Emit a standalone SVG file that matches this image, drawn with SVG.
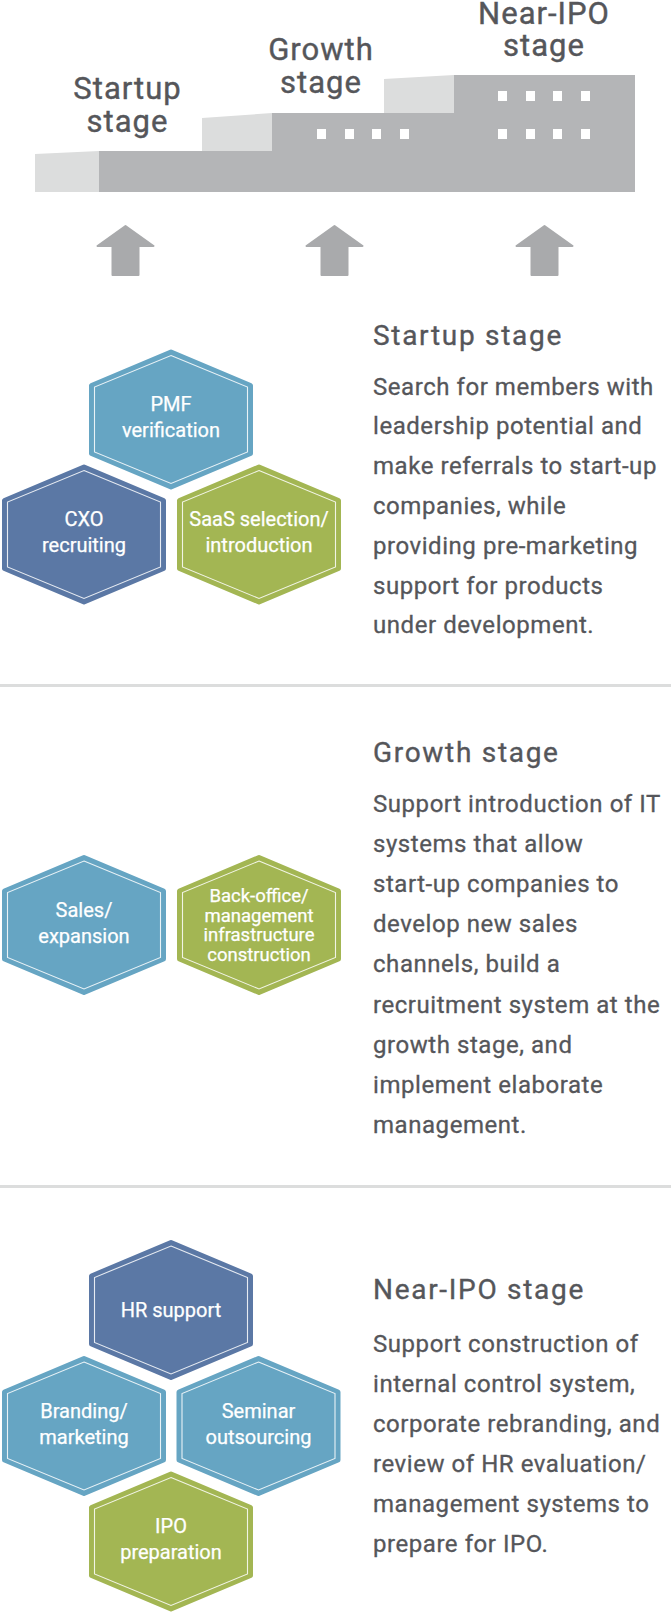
<svg xmlns="http://www.w3.org/2000/svg" xmlns:xlink="http://www.w3.org/1999/xlink" width="671" height="1614" viewBox="0 0 671 1614">
<style>
.bg{fill:#ffffff}
.dark{fill:#b4b5b7}
.light{fill:#dcdddd}
.win{fill:#ffffff}
.arrow{fill:#a9aaac;stroke:#a9aaac;stroke-width:2;stroke-linejoin:round}
.toplbl{font-family:Roboto,"Liberation Sans",sans-serif;font-size:31px;letter-spacing:1px;fill:#55565a;stroke:#55565a;stroke-width:0.4;text-anchor:middle}
.head{font-family:Roboto,"Liberation Sans",sans-serif;font-size:28px;letter-spacing:1.7px;fill:#55565a;stroke:#55565a;stroke-width:0.35}
.body{font-family:Roboto,"Liberation Sans",sans-serif;font-size:24px;letter-spacing:0.55px;fill:#55565a;stroke:#55565a;stroke-width:0.3}
.hl{font-family:Roboto,"Liberation Sans",sans-serif;font-size:20px;fill:#ffffff;stroke:#ffffff;stroke-width:0.25;text-anchor:middle}
.hl4{font-family:Roboto,"Liberation Sans",sans-serif;font-size:18.5px;fill:#ffffff;stroke:#ffffff;stroke-width:0.25;text-anchor:middle}
.sep{fill:#dcdddd}
.lb{fill:#66a5c3;stroke:#66a5c3;stroke-width:5;stroke-linejoin:round}
.db{fill:#5b78a5;stroke:#5b78a5;stroke-width:5;stroke-linejoin:round}
.gr{fill:#a3b653;stroke:#a3b653;stroke-width:5;stroke-linejoin:round}
.inner{fill:none;stroke:#ffffff;stroke-width:1.1;stroke-opacity:0.85}
</style>
<defs>
<path id="hexO" d="M0,-67.5 L79.5,-34 L79.5,34 L0,67.5 L-79.5,34 L-79.5,-34 Z"/>
<path id="hexI" d="M0,-64 L76.5,-32.5 L76.5,32.5 L0,64 L-76.5,32.5 L-76.5,-32.5 Z"/>
<path id="arr" d="M0,0 L28,20 L13,20 L13,49 L-13,49 L-13,20 L-28,20 Z"/>
</defs>
<rect class="bg" x="0" y="0" width="671" height="1614"/>

<g id="building">
<polygon class="light" points="35,154 99,151 99,192 35,192"/>
<polygon class="light" points="202,118 272,113 272,151 202,151"/>
<polygon class="light" points="384,79 454,75 454,113 384,113"/>
<polygon class="dark" points="99,151 272,151 272,113 454,113 454,75 635,75 635,192 99,192"/>
<rect class="win" x="317" y="129" width="9" height="10"/>
<rect class="win" x="345" y="129" width="9" height="10"/>
<rect class="win" x="372" y="129" width="9" height="10"/>
<rect class="win" x="400" y="129" width="9" height="10"/>
<rect class="win" x="498" y="91" width="9" height="10"/>
<rect class="win" x="526" y="91" width="9" height="10"/>
<rect class="win" x="553" y="91" width="9" height="10"/>
<rect class="win" x="581" y="91" width="9" height="10"/>
<rect class="win" x="498" y="129" width="9" height="10"/>
<rect class="win" x="526" y="129" width="9" height="10"/>
<rect class="win" x="553" y="129" width="9" height="10"/>
<rect class="win" x="581" y="129" width="9" height="10"/>
</g>

<g id="top-labels">
<text class="toplbl" x="127.5" y="98.5">Startup</text>
<text class="toplbl" x="127.5" y="131.5">stage</text>
<text class="toplbl" x="321" y="60">Growth</text>
<text class="toplbl" x="321" y="93">stage</text>
<text class="toplbl" x="544" y="23.5">Near-IPO</text>
<text class="toplbl" x="544" y="56">stage</text>
</g>

<g id="connectors">
<use xlink:href="#arr" href="#arr" class="arrow" x="125.5" y="226"/>
<use xlink:href="#arr" href="#arr" class="arrow" x="334.5" y="226"/>
<use xlink:href="#arr" href="#arr" class="arrow" x="544.5" y="226"/>
</g>

<g id="section-startup">
<g id="hex-pmf">
<use href="#hexO" class="lb" x="171" y="419.5"/>
<use href="#hexI" class="inner" x="171" y="419.5"/>
<text class="hl" x="171" y="410.5">PMF</text>
<text class="hl" x="171" y="436.5">verification</text>
</g>
<g id="hex-cxo">
<use href="#hexO" class="db" x="84" y="534.5"/>
<use href="#hexI" class="inner" x="84" y="534.5"/>
<text class="hl" x="84" y="526">CXO</text>
<text class="hl" x="84" y="552">recruiting</text>
</g>
<g id="hex-saas">
<use href="#hexO" class="gr" x="259" y="534.5"/>
<use href="#hexI" class="inner" x="259" y="534.5"/>
<text class="hl" x="259" y="526">SaaS selection/</text>
<text class="hl" x="259" y="552">introduction</text>
</g>
<g id="text-startup">
<text class="head" x="373" y="345">Startup stage</text>
<text class="body" x="373" y="394.5">Search for members with</text>
<text class="body" x="373" y="434.3">leadership potential and</text>
<text class="body" x="373" y="474.1">make referrals to start-up</text>
<text class="body" x="373" y="513.9">companies, while</text>
<text class="body" x="373" y="553.7">providing pre-marketing</text>
<text class="body" x="373" y="593.5">support for products</text>
<text class="body" x="373" y="633.3">under development.</text>
</g>
</g>

<rect class="sep" x="0" y="684" width="671" height="3"/>

<g id="section-growth">
<g id="hex-sales">
<use href="#hexO" class="lb" x="84" y="925"/>
<use href="#hexI" class="inner" x="84" y="925"/>
<text class="hl" x="84" y="916.5">Sales/</text>
<text class="hl" x="84" y="942.5">expansion</text>
</g>
<g id="hex-backoffice">
<use href="#hexO" class="gr" x="259" y="925"/>
<use href="#hexI" class="inner" x="259" y="925"/>
<text class="hl4" x="259" y="902">Back-office/</text>
<text class="hl4" x="259" y="921.5">management</text>
<text class="hl4" x="259" y="941">infrastructure</text>
<text class="hl4" x="259" y="960.5">construction</text>
</g>
<g id="text-growth">
<text class="head" x="373" y="762">Growth stage</text>
<text class="body" x="373" y="812">Support introduction of IT</text>
<text class="body" x="373" y="852.1">systems that allow</text>
<text class="body" x="373" y="892.2">start-up companies to</text>
<text class="body" x="373" y="932.3">develop new sales</text>
<text class="body" x="373" y="972.4">channels, build a</text>
<text class="body" x="373" y="1012.5">recruitment system at the</text>
<text class="body" x="373" y="1052.6">growth stage, and</text>
<text class="body" x="373" y="1092.7">implement elaborate</text>
<text class="body" x="373" y="1132.8">management.</text>
</g>
</g>

<rect class="sep" x="0" y="1185" width="671" height="3"/>

<g id="section-ipo">
<g id="hex-hr">
<use href="#hexO" class="db" x="171" y="1310"/>
<use href="#hexI" class="inner" x="171" y="1310"/>
<text class="hl" x="171" y="1317">HR support</text>
</g>
<g id="hex-branding">
<use href="#hexO" class="lb" x="84" y="1426"/>
<use href="#hexI" class="inner" x="84" y="1426"/>
<text class="hl" x="84" y="1417.5">Branding/</text>
<text class="hl" x="84" y="1443.5">marketing</text>
</g>
<g id="hex-seminar">
<use href="#hexO" class="lb" x="258.5" y="1426"/>
<use href="#hexI" class="inner" x="258.5" y="1426"/>
<text class="hl" x="258.5" y="1417.5">Seminar</text>
<text class="hl" x="258.5" y="1443.5">outsourcing</text>
</g>
<g id="hex-ipo">
<use href="#hexO" class="gr" x="171" y="1541.5"/>
<use href="#hexI" class="inner" x="171" y="1541.5"/>
<text class="hl" x="171" y="1532.5">IPO</text>
<text class="hl" x="171" y="1558.5">preparation</text>
</g>
<g id="text-ipo">
<text class="head" x="373" y="1299">Near-IPO stage</text>
<text class="body" x="373" y="1352">Support construction of</text>
<text class="body" x="373" y="1391.9">internal control system,</text>
<text class="body" x="373" y="1431.8">corporate rebranding, and</text>
<text class="body" x="373" y="1471.7">review of HR evaluation/</text>
<text class="body" x="373" y="1511.6">management systems to</text>
<text class="body" x="373" y="1551.5">prepare for IPO.</text>
</g>
</g>
</svg>
